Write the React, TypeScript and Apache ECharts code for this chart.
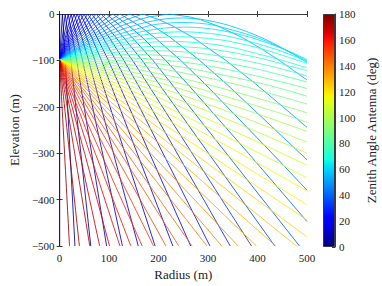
import React, { useEffect, useRef } from "react";
import * as echarts from "echarts";

// Zenith angles (deg) of the rays, by family
const reflectedAngles = [0, 3, 6, 9, 12, 15, 18, 21, 24, 27, 30, 33, 36, 39, 42, 45, 48, 51, 54];
const turningAngles = [57, 60, 63, 66, 69, 72, 75, 78, 81, 84, 87];
const downAngles = [90, 93, 96, 99, 102, 105, 108, 111, 114, 117, 120, 123, 126, 129, 132, 135, 138, 141, 144, 147, 150, 153, 156, 159, 162, 165, 168, 171, 174, 177, 180];

// Ray paths [radius m, elevation m]
const reflectedPaths: number[][][] = [
  [[0, -100], [0, 0], [0, -500]],
  [[0, -100], [5.7, 0], [11.4, -100], [31, -500]],
  [[0, -100], [11.4, 0], [22.8, -100], [63, -500]],
  [[0, -100], [17.3, 0], [34.5, -100], [95, -500]],
  [[0, -100], [23.2, 0], [46.4, -100], [127, -500]],
  [[0, -100], [13.8, -50], [29.3, 0], [44.8, -50], [58.6, -100], [159, -500]],
  [[0, -100], [16.8, -50], [35.7, 0], [54.6, -50], [71.4, -100], [193, -500]],
  [[0, -100], [19.9, -50], [42.3, 0], [64.7, -50], [84.6, -100], [229, -500]],
  [[0, -100], [23.1, -50], [49.3, 0], [75.5, -50], [98.6, -100], [265, -500]],
  [[0, -100], [26.5, -50], [56.9, 0], [87.3, -50], [113.8, -100], [304, -500]],
  [[0, -100], [30.1, -50], [65, 0], [99.9, -50], [130, -100], [345, -500]],
  [[0, -100], [34, -50], [73.8, 0], [113.6, -50], [147.6, -100], [388, -500]],
  [[0, -100], [38.1, -50], [59.4, -25], [83.5, 0], [107.6, -25], [128.9, -50], [167, -100], [435, -500]],
  [[0, -100], [42.7, -50], [66.7, -25], [94.4, 0], [122.1, -25], [146.1, -50], [188.8, -100], [485, -500]],
  [[0, -100], [47.7, -50], [75, -25], [107.2, 0], [139.4, -25], [166.7, -50], [214.4, -100], [258, -150], [381.6, -300], [500, -447]],
  [[0, -100], [53.4, -50], [84.5, -25], [122.4, 0], [160.3, -25], [191.4, -50], [244.8, -100], [293.2, -150], [429.4, -300], [500, -379.5]],
  [[0, -100], [59.8, -50], [95.6, -25], [116.4, -12.5], [141.5, 0], [166.6, -12.5], [187.4, -25], [223.2, -50], [283, -100], [336.5, -150], [486, -300], [500, -314]],
  [[0, -100], [67.3, -50], [109, -25], [134.4, -12.5], [168, 0], [201.6, -12.5], [227, -25], [268.7, -50], [336, -100], [395.5, -150], [451.5, -200], [500, -244.5]],
  [[0, -100], [35.9, -75], [76.1, -50], [126.1, -25], [158.8, -12.5], [181.1, -6.25], [222, 0], [262.9, -6.25], [285.2, -12.5], [317.9, -25], [367.9, -50], [408, -75], [444, -100], [500, -142]],
];

const turningPaths: number[][][] = [
  [[0, -100], [40.5, -75], [87, -50], [150, -25], [200.4, -12.5], [223.5, -9.6], [246.6, -8.65], [269.7, -9.6], [292.8, -12.5], [343.2, -25], [406.2, -50], [452.7, -75], [493.2, -100], [500, -104.4]],
  [[0, -100], [46, -75], [101, -50], [182.6, -25], [214.8, -20], [248.8, -18.2], [282.8, -20], [315, -25], [396.6, -50], [451.6, -75], [497.6, -100], [500, -101.4]],
  [[0, -100], [53, -75], [120.5, -50], [168.5, -37.5], [210.8, -30.5], [252.5, -28.2], [294.2, -30.5], [336.5, -37.5], [384.5, -50], [452, -75], [500, -98.2]],
  [[0, -100], [62, -75], [146.5, -50], [191.5, -42], [248, -38.4], [304.5, -42], [349.5, -50], [434, -75], [496, -100], [500, -101.8]],
  [[0, -100], [74, -75], [122, -62.5], [161, -55], [241, -48.9], [321, -55], [360, -62.5], [408, -75], [482, -100], [500, -106.5]],
  [[0, -100], [70, -80], [111, -70], [170, -61.8], [225, -59.3], [280, -61.8], [339, -70], [380, -80], [450, -100], [500, -116]],
  [[0, -100], [41, -90], [89, -80], [150, -72.1], [212, -69.4], [274, -72.1], [335, -80], [383, -90], [424, -100], [457, -110], [500, -121.7]],
  [[0, -100], [54, -90], [89, -85], [137, -80.6], [187, -79.1], [237, -80.6], [285, -85], [320, -90], [374, -100], [417, -110], [455, -120], [500, -133.6]],
  [[0, -100], [35, -95], [100, -89], [152, -87.5], [204, -89], [269, -95], [304, -100], [360, -110], [405, -120], [500, -146.5]],
  [[0, -100], [50, -95.8], [109, -94.1], [168, -95.8], [218, -100], [259, -105], [291, -110], [342, -120], [463, -150], [500, -160.6]],
  [[0, -100], [58.6, -98.4], [117, -100], [179, -105], [219, -110], [277, -120], [409, -150], [500, -177]],
];

const downPaths: number[][][] = [
  [[0, -100], [50, -101.1], [105, -105], [148, -110], [216, -120], [351, -150], [500, -194]],
  [[0, -100], [62, -105], [102, -110], [160, -120], [292, -150], [460, -200], [500, -213]],
  [[0, -100], [40, -105], [72, -110], [124, -120], [245, -150], [405, -200], [500, -233]],
  [[0, -100], [29, -105], [55, -110], [98, -120], [208, -150], [358, -200], [500, -253]],
  [[0, -100], [43, -110], [80, -120], [178, -150], [314, -200], [438, -250], [500, -276]],
  [[0, -100], [68, -120], [153, -150], [277, -200], [391, -250], [500, -300]],
  [[0, -100], [57, -120], [132, -150], [244, -200], [348, -250], [449, -300], [500, -326]],
  [[0, -100], [49, -120], [115, -150], [216, -200], [404, -300], [500, -353]],
  [[0, -100], [103, -150], [194, -200], [365, -300], [500, -381]],
  [[0, -100], [92, -150], [174, -200], [331, -300], [500, -411]],
  [[0, -100], [82, -150], [156, -200], [299, -300], [500, -444]],
  [[0, -100], [73, -150], [141, -200], [271, -300], [500, -480]],
  [[0, -100], [66, -150], [128, -200], [246, -300], [479, -500]],
  [[0, -100], [59, -150], [115, -200], [224, -300], [437, -500]],
  [[0, -100], [54, -150], [105, -200], [203, -300], [398, -500]],
  [[0, -100], [48, -150], [94, -200], [184, -300], [361, -500]],
  [[0, -100], [44, -150], [86, -200], [167, -300], [328, -500]],
  [[0, -100], [77, -200], [151, -300], [298, -500]],
  [[0, -100], [70, -200], [136, -300], [268, -500]],
  [[0, -100], [123, -300], [241, -500]],
  [[0, -100], [110, -300], [215, -500]],
  [[0, -100], [97, -300], [190, -500]],
  [[0, -100], [167, -500]],
  [[0, -100], [144, -500]],
  [[0, -100], [122, -500]],
  [[0, -100], [101, -500]],
  [[0, -100], [81, -500]],
  [[0, -100], [61, -500]],
  [[0, -100], [40, -500]],
  [[0, -100], [20, -500]],
  [[0, -100], [0, -500]],
];

const radiusTicks = { min: 0, max: 500, step: 100 };
const elevationTicks = { min: -500, max: 0, step: 100 };
const colorbarTicks = { min: 0, max: 180, step: 20 };

// matplotlib "jet" colormap
function interp(t: number, pts: number[][]): number {
  for (let i = 1; i < pts.length; i++) {
    if (t <= pts[i][0]) {
      const [x0, y0] = pts[i - 1];
      const [x1, y1] = pts[i];
      return y0 + ((t - x0) / (x1 - x0)) * (y1 - y0);
    }
  }
  return pts[pts.length - 1][1];
}
function jet(t: number): string {
  const r = interp(t, [[0, 0], [0.35, 0], [0.66, 1], [0.89, 1], [1, 0.5]]);
  const g = interp(t, [[0, 0], [0.125, 0], [0.375, 1], [0.64, 1], [0.91, 0], [1, 0]]);
  const b = interp(t, [[0, 0.5], [0.11, 1], [0.34, 1], [0.65, 0], [1, 0]]);
  const c = (v: number) => Math.round(Math.max(0, Math.min(1, v)) * 255);
  return `rgb(${c(r)},${c(g)},${c(b)})`;
}

const FONT = "Liberation Serif";
const AXIS = "#3a3a3a";
const minus = (v: number) => (v < 0 ? "\u2212" + Math.abs(v) : String(v));

export default function App() {
  const ref = useRef<HTMLDivElement>(null);
  useEffect(() => {
    document.body.style.margin = "0";
    if (!ref.current) return;
    const chart = echarts.init(ref.current, null, { renderer: "svg" });

    const mk = (angles: number[], paths: number[][][], smooth: boolean | number) =>
      angles.map((a, i) => ({
        type: "line",
        xAxisIndex: 0,
        yAxisIndex: 0,
        data: paths[i],
        symbol: "none",
        smooth,
        silent: true,
        clip: true,
        lineStyle: { width: 0.85, color: jet(a / 180) },
      }));

    const stops: any[] = [];
    for (let i = 0; i <= 40; i++) stops.push({ offset: i / 40, color: jet(i / 40) });

    const tickStyle = { show: true, inside: true, length: 3, lineStyle: { color: AXIS } };
    const labelStyle = { fontFamily: FONT, fontSize: 11, color: "#222" };

    chart.setOption({
      animation: false,
      backgroundColor: "#fff",
      grid: [
        { left: 53, top: 14, width: 254, height: 233 },
        { left: 323, top: 14, width: 12, height: 233 },
      ],
      xAxis: [
        {
          gridIndex: 0, type: "value", min: radiusTicks.min, max: radiusTicks.max, interval: radiusTicks.step,
          axisLine: { show: true, lineStyle: { color: AXIS } }, axisTick: tickStyle,
          axisLabel: { ...labelStyle, margin: 6 }, splitLine: { show: false },
          name: "Radius (m)", nameLocation: "middle", nameGap: 19,
          nameTextStyle: { fontFamily: FONT, fontSize: 13, color: "#222" },
        },
        { gridIndex: 1, type: "category", data: ["cb"], show: false, boundaryGap: true },
        {
          gridIndex: 0, type: "value", position: "top", min: radiusTicks.min, max: radiusTicks.max, interval: radiusTicks.step,
          axisLine: { show: true, lineStyle: { color: AXIS } }, axisTick: tickStyle,
          axisLabel: { show: false }, splitLine: { show: false },
        },
      ],
      yAxis: [
        {
          gridIndex: 0, type: "value", min: elevationTicks.min, max: elevationTicks.max, interval: elevationTicks.step,
          axisLine: { show: true, lineStyle: { color: AXIS } }, axisTick: tickStyle,
          axisLabel: { ...labelStyle, margin: 5, formatter: minus }, splitLine: { show: false },
          name: "Elevation (m)", nameLocation: "middle", nameGap: 33, nameRotate: 90,
          nameTextStyle: { fontFamily: FONT, fontSize: 13, color: "#222" },
        },
        {
          gridIndex: 1, type: "value", position: "right", min: colorbarTicks.min, max: colorbarTicks.max, interval: colorbarTicks.step,
          axisLine: { show: true, lineStyle: { color: AXIS } }, axisTick: tickStyle,
          axisLabel: { ...labelStyle, margin: 4 }, splitLine: { show: false },
          name: "Zenith Angle Antenna (deg)", nameLocation: "middle", nameGap: 30, nameRotate: 90,
          nameTextStyle: { fontFamily: FONT, fontSize: 13, color: "#222" },
        },
        {
          gridIndex: 0, type: "value", position: "right", min: elevationTicks.min, max: elevationTicks.max, interval: elevationTicks.step,
          axisLine: { show: true, lineStyle: { color: AXIS } }, axisTick: tickStyle,
          axisLabel: { show: false }, splitLine: { show: false },
        },
      ],
      series: [
        ...mk(reflectedAngles, reflectedPaths, false),
        ...mk(turningAngles, turningPaths, 0.35),
        ...mk(downAngles, downPaths, 0.35),
        {
          type: "bar",
          xAxisIndex: 1,
          yAxisIndex: 1,
          data: [colorbarTicks.max],
          barWidth: "100%",
          silent: true,
          itemStyle: {
            color: new echarts.graphic.LinearGradient(0, 1, 0, 0, stops),
            borderColor: AXIS,
            borderWidth: 1,
          },
        },
      ],
    });
    return () => chart.dispose();
  }, []);
  return <div ref={ref} style={{ width: 382, height: 286 }} />;
}
